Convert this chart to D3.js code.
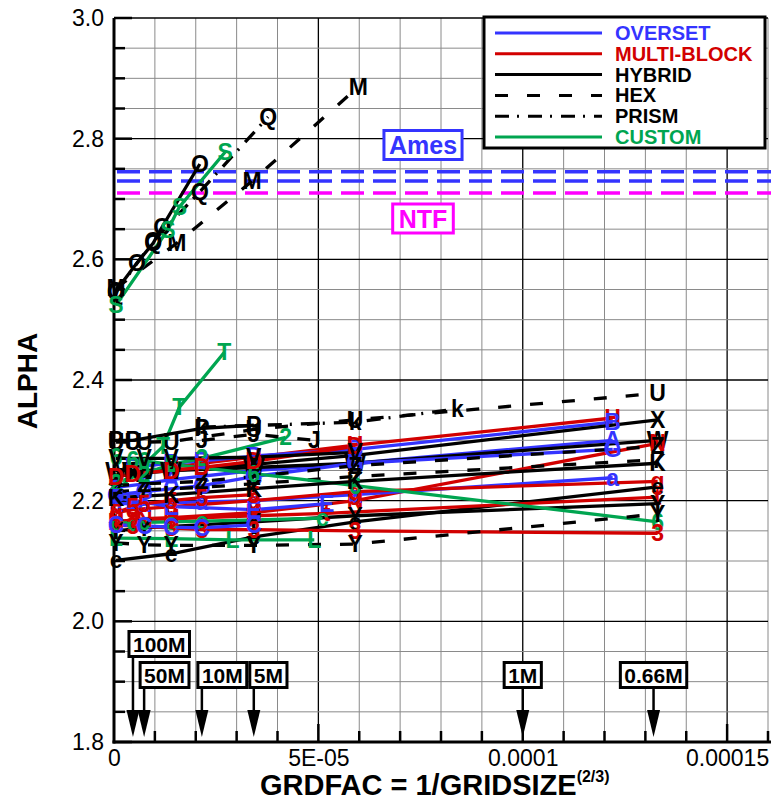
<!DOCTYPE html>
<html>
<head>
<meta charset="utf-8">
<script src="https://cdn.jsdelivr.net/npm/d3@7"></script>
<style>
body { margin: 0; background: #fff; }
text { font-family: "Liberation Sans", Arial, sans-serif; }
</style>
</head>
<body>
<div id="chart"></div>
<script>
// legend entries (grid type) and how each one is drawn
var gridTypes = ["OVERSET", "MULTI-BLOCK", "HYBRID", "HEX", "PRISM", "CUSTOM"];
var typeColors = ["#3434ff", "#d20000", "#000000", "#000000", "#000000", "#00a550"];
var typeDash = [null, null, null, "13,19", "14,8,2,9", null];

// one entry per solution: grid type, plot symbol, GRDFAC (x 1e-5) and ALPHA
var seriesType = ["HYBRID", "PRISM", "HEX", "CUSTOM", "HEX", "PRISM", "CUSTOM",
    "MULTI-BLOCK", "OVERSET", "HYBRID", "OVERSET", "HYBRID", "MULTI-BLOCK", "OVERSET",
    "HEX", "HEX", "OVERSET", "MULTI-BLOCK", "HYBRID", "MULTI-BLOCK", "HYBRID",
    "CUSTOM", "CUSTOM", "CUSTOM", "CUSTOM", "MULTI-BLOCK", "HEX", "OVERSET",
    "MULTI-BLOCK", "OVERSET", "MULTI-BLOCK", "HYBRID", "HYBRID", "HYBRID", "HEX"];
var seriesSymbol = ["O", "Q", "M", "S", "U", "k", "T", "H", "B", "X", "A", "W", "N", "G",
    "Z", "7", "a", "g", "e", "t", "Y", "6", "2", "c", "L", "3", "Y", "E", "5", "C", "D",
    "P", "K", "V", "J"];
var seriesGrdfac = [
    [0.05, 0.56, 0.96, 1.18, 2.1],
    [0.05, 0.96, 2.1, 3.77],
    [0.05, 1.54, 3.38, 5.98],
    [0.05, 1.32, 1.6, 2.72],
    [0.05, 0.46, 0.74, 1.4, 3.42, 5.9, 13.3],
    [2.15, 5.9, 8.4],
    [0.05, 1.2, 1.6, 2.7],
    [0.46, 1.4, 2.15, 3.42, 5.9, 12.2],
    [0.46, 1.4, 2.15, 3.42, 5.9, 12.2],
    [0.05, 0.46, 1.4, 3.42, 5.9, 13.3],
    [0.05, 0.74, 1.4, 3.42, 5.9, 12.2],
    [0.05, 0.46, 0.74, 1.4, 3.42, 5.9, 13.3],
    [0.05, 0.74, 1.4, 3.42, 5.9, 13.3],
    [0.05, 0.74, 2.15, 3.42, 5.9, 12.2],
    [0.05, 0.74, 2.15, 3.42, 5.9, 13.3],
    [0.05, 0.74, 2.15, 3.42, 5.9, 13.3],
    [0.05, 0.74, 2.15, 3.42, 5.9, 12.2],
    [0.05, 0.46, 1.4, 3.42, 5.9, 13.3],
    [0.05, 1.4, 3.42, 5.9, 13.3],
    [0.05, 0.46, 1.4, 3.42, 5.2, 13.3],
    [0.05, 0.74, 3.42, 5.9, 13.3],
    [0.05, 0.46, 0.74, 1.4, 3.42, 5.9, 13.3],
    [0.05, 0.74, 1.4, 2.15, 4.2],
    [0.05, 0.46, 0.74, 1.4, 2.15, 5.1],
    [0.05, 1.4, 2.9, 4.9],
    [0.05, 0.46, 1.4, 2.15, 3.42, 5.9, 13.3],
    [0.05, 0.74, 1.4, 3.42, 5.9, 13.3],
    [0.05, 0.46, 1.4, 3.42, 5.2],
    [0.05, 0.46, 0.74, 1.4, 2.15, 3.42],
    [0.05, 0.74, 1.4, 2.15, 3.42],
    [0.05, 0.46, 1.4, 2.15, 3.42, 5.9],
    [0.05, 0.46, 2.15, 3.42],
    [0.05, 1.4, 3.42, 5.9, 13.3],
    [0.05, 0.74, 1.4, 3.42, 5.9],
    [2.15, 3.42, 4.9]
];
var seriesAlpha = [
    [2.548, 2.594, 2.627, 2.654, 2.758],
    [2.546, 2.630, 2.712, 2.836],
    [2.552, 2.627, 2.730, 2.886],
    [2.524, 2.649, 2.687, 2.778],
    [2.297, 2.297, 2.297, 2.298, 2.318, 2.334, 2.378],
    [2.322, 2.330, 2.352],
    [2.215, 2.290, 2.355, 2.446],
    [2.245, 2.255, 2.262, 2.272, 2.292, 2.337],
    [2.256, 2.262, 2.266, 2.274, 2.285, 2.330],
    [2.240, 2.244, 2.250, 2.260, 2.275, 2.334],
    [2.222, 2.228, 2.235, 2.250, 2.262, 2.300],
    [2.250, 2.250, 2.250, 2.250, 2.255, 2.262, 2.300],
    [2.165, 2.170, 2.172, 2.180, 2.200, 2.295],
    [2.210, 2.215, 2.225, 2.240, 2.262, 2.285],
    [2.225, 2.228, 2.232, 2.240, 2.258, 2.290],
    [2.215, 2.218, 2.222, 2.228, 2.240, 2.268],
    [2.195, 2.195, 2.198, 2.200, 2.210, 2.238],
    [2.180, 2.185, 2.190, 2.200, 2.215, 2.232],
    [2.101, 2.112, 2.140, 2.165, 2.223],
    [2.165, 2.168, 2.170, 2.175, 2.179, 2.206],
    [2.150, 2.155, 2.165, 2.175, 2.195],
    [2.272, 2.268, 2.266, 2.260, 2.245, 2.225, 2.165],
    [2.230, 2.245, 2.260, 2.270, 2.305],
    [2.163, 2.163, 2.164, 2.165, 2.166, 2.171],
    [2.138, 2.137, 2.135, 2.135],
    [2.160, 2.158, 2.155, 2.152, 2.152, 2.150, 2.146],
    [2.130, 2.127, 2.126, 2.126, 2.128, 2.178],
    [2.205, 2.200, 2.190, 2.185, 2.195],
    [2.180, 2.190, 2.195, 2.200, 2.205, 2.210],
    [2.160, 2.158, 2.156, 2.155, 2.160],
    [2.240, 2.245, 2.250, 2.255, 2.265, 2.290],
    [2.300, 2.300, 2.320, 2.325],
    [2.205, 2.210, 2.220, 2.232, 2.262],
    [2.270, 2.270, 2.270, 2.272, 2.280],
    [2.300, 2.310, 2.300]
];

// experimental reference values
var refNames = ["Ames", "Ames", "NTF"];
var refAlpha = [2.745, 2.730, 2.710];

// grid size markers along the bottom
var gridSizeLabels = ["100M", "50M", "10M", "5M", "1M", "0.66M"];
var gridSizeGrdfac = [4.64e-6, 7.37e-6, 2.15e-5, 3.42e-5, 1.0e-4, 1.32e-4];

var yTicks = [1.8, 2.0, 2.2, 2.4, 2.6, 2.8, 3.0];
var xTicks = [0, 0.00005, 0.0001, 0.00015];
var xTickLabels = ["0", "5E-05", "0.0001", "0.00015"];

var width = 771, height = 798;
var plotL = 114, plotR = 768, plotT = 18, plotB = 742;

var svg = d3.select("#chart").append("svg")
    .attr("width", width)
    .attr("height", height);

var x = d3.scaleLinear().domain([0, 0.00016]).range([plotL, plotR]);
var y = d3.scaleLinear().domain([1.8, 3.0]).range([plotB, plotT]);

svg.append("clipPath").attr("id", "plotclip")
    .append("rect")
    .attr("x", plotL).attr("y", plotT - 2)
    .attr("width", plotR - plotL + 3).attr("height", plotB - plotT + 2);

// grid
var gx = d3.range(1, 17).map(function (i) { return i * 1e-5; });
var gy = d3.range(0, 25).map(function (i) { return 1.8 + i * 0.05; });
var grid = svg.append("g");
grid.selectAll("line.vx")
    .data(gx)
    .enter().append("line")
    .attr("x1", function (d) { return x(d); })
    .attr("x2", function (d) { return x(d); })
    .attr("y1", plotT).attr("y2", plotB)
    .attr("stroke", function (d, i) { return (i + 1) % 5 == 0 ? "#000" : "#8a8a8a"; })
    .attr("stroke-width", function (d, i) { return (i + 1) % 5 == 0 ? 1.3 : 1; });
grid.selectAll("line.hy")
    .data(gy)
    .enter().append("line")
    .attr("x1", plotL).attr("x2", plotR)
    .attr("y1", function (d) { return y(d); })
    .attr("y2", function (d) { return y(d); })
    .attr("stroke", function (d, i) { return i % 4 == 0 ? "#000" : "#8a8a8a"; })
    .attr("stroke-width", function (d, i) { return i % 4 == 0 ? 1.3 : 1; });

// axis ticks (inside)
svg.append("g").selectAll("line")
    .data(gy)
    .enter().append("line")
    .attr("x1", plotL).attr("x2", function (d, i) { return i % 4 == 0 ? plotL + 18 : plotL + 11; })
    .attr("y1", function (d) { return y(d); })
    .attr("y2", function (d) { return y(d); })
    .attr("stroke", "#000").attr("stroke-width", 2.5);
svg.append("g").selectAll("line")
    .data(gx)
    .enter().append("line")
    .attr("x1", function (d) { return x(d); })
    .attr("x2", function (d) { return x(d); })
    .attr("y1", plotB)
    .attr("y2", function (d, i) { return (i + 1) % 5 == 0 ? plotB - 18 : plotB - 11; })
    .attr("stroke", "#000").attr("stroke-width", 2.5);

// axis labels
var yAxis = svg.append("g")
    .attr("transform", "translate(" + plotL + ",0)")
    .call(d3.axisLeft(y).tickValues(yTicks).tickFormat(d3.format(".1f")).tickSize(0).tickPadding(10));
yAxis.select(".domain").remove();
yAxis.selectAll("text").attr("font-size", 23).attr("fill", "#000")
    .style("font-family", "'Liberation Sans', Arial, sans-serif");

var xAxis = svg.append("g")
    .attr("transform", "translate(0," + plotB + ")")
    .call(d3.axisBottom(x).tickValues(xTicks).tickFormat(function (d, i) { return xTickLabels[i]; }).tickSize(0).tickPadding(8));
xAxis.select(".domain").remove();
xAxis.selectAll("text").attr("font-size", 23).attr("fill", "#000")
    .style("font-family", "'Liberation Sans', Arial, sans-serif");

// axis lines
svg.append("line").attr("x1", plotL).attr("x2", plotL).attr("y1", plotT).attr("y2", plotB + 1.5)
    .attr("stroke", "#000").attr("stroke-width", 3);
svg.append("line").attr("x1", plotL - 1.5).attr("x2", plotR + 3).attr("y1", plotB).attr("y2", plotB)
    .attr("stroke", "#000").attr("stroke-width", 3);

svg.append("text")
    .attr("transform", "translate(37,381) rotate(-90)")
    .attr("text-anchor", "middle")
    .attr("font-size", 28).attr("font-weight", "bold")
    .text("ALPHA");

var xl = svg.append("text")
    .attr("x", 260).attr("y", 795)
    .attr("font-size", 29).attr("font-weight", "bold");
xl.append("tspan").text("GRDFAC = 1/GRIDSIZE");
xl.append("tspan").attr("font-size", 16).attr("dy", -13).text("(2/3)");

// reference lines
var refColor = { "Ames": "#3434ff", "NTF": "#ff00ff" };
svg.append("g").selectAll("line")
    .data(refAlpha)
    .enter().append("line")
    .attr("x1", plotL + 3).attr("x2", plotR + 3)
    .attr("y1", function (d) { return y(d); })
    .attr("y2", function (d) { return y(d); })
    .attr("stroke", function (d, i) { return refColor[refNames[i]]; })
    .attr("stroke-width", 3.5)
    .attr("stroke-dasharray", "23,9");

function boxedLabel(txt, cx, cy, color, size, pad) {
    var g = svg.append("g");
    var r = g.append("rect");
    var t = g.append("text")
        .attr("x", cx).attr("y", cy)
        .attr("text-anchor", "middle")
        .attr("dominant-baseline", "central")
        .attr("font-size", size).attr("font-weight", "bold")
        .attr("fill", color)
        .text(txt);
    var w = t.node().getComputedTextLength();
    r.attr("x", cx - w / 2 - pad).attr("y", cy - size * 0.58)
        .attr("width", w + 2 * pad).attr("height", size * 1.16)
        .attr("fill", "#fff").attr("stroke", color).attr("stroke-width", 3);
    return w;
}
boxedLabel("Ames", 423, 145, "#3434ff", 25, 5);
boxedLabel("NTF", 423, 218.5, "#ff00ff", 25, 6);

// solution curves
function typeIndex(t) { return gridTypes.indexOf(t); }
var lineGen = d3.line()
    .x(function (d) { return x(d[0] * 1e-5); })
    .y(function (d) { return y(d[1]); });

var series = seriesType.map(function (t, i) {
    return {
        type: t,
        sym: seriesSymbol[i],
        pts: seriesGrdfac[i].map(function (g, j) { return [g, seriesAlpha[i][j]]; })
    };
});

var curves = svg.append("g").attr("clip-path", "url(#plotclip)");
curves.selectAll("path")
    .data(series)
    .enter().append("path")
    .attr("d", function (d) { return lineGen(d.pts); })
    .attr("fill", "none")
    .attr("stroke", function (d) { return typeColors[typeIndex(d.type)]; })
    .attr("stroke-width", 3.3)
    .attr("stroke-dasharray", function (d) { return typeDash[typeIndex(d.type)]; });

var syms = svg.append("g");
series.forEach(function (s) {
    syms.selectAll(null)
        .data(s.pts)
        .enter().append("text")
        .attr("x", function (d) { return x(d[0] * 1e-5); })
        .attr("y", function (d) { return y(d[1]); })
        .attr("text-anchor", "middle")
        .attr("dominant-baseline", "central")
        .attr("font-size", 23).attr("font-weight", "bold")
        .attr("fill", typeColors[typeIndex(s.type)])
        .text(s.sym);
});

// grid size arrows
var gridRow = [0, 1, 1, 1, 1, 1];
var gridAlign = ["left", "left", "left", "left", "mid", "mid"];
var arrows = svg.append("g");
gridSizeLabels.forEach(function (lab, i) {
    var ax = x(gridSizeGrdfac[i]);
    var by = gridRow[i] == 0 ? 644 : 675;
    arrows.append("line")
        .attr("x1", ax).attr("x2", ax).attr("y1", by).attr("y2", 712)
        .attr("stroke", "#000").attr("stroke-width", 2.5);
    arrows.append("path")
        .attr("d", "M" + (ax - 6.5) + ",710L" + (ax + 6.5) + ",710L" + ax + ",737Z")
        .attr("fill", "#000");
    var t = arrows.append("text")
        .attr("y", by).attr("dominant-baseline", "central")
        .attr("font-size", 21).attr("font-weight", "bold")
        .text(lab);
    var w = t.node().getComputedTextLength();
    var bx = gridAlign[i] == "left" ? ax - 4 : ax - (w + 8) / 2;
    t.attr("x", bx + 4);
    arrows.insert("rect", "text:last-child")
        .attr("x", bx).attr("y", by - 12.5)
        .attr("width", w + 8).attr("height", 25)
        .attr("fill", "#fff").attr("stroke", "#000").attr("stroke-width", 3);
    t.raise();
});

// legend
var leg = svg.append("g");
leg.append("rect")
    .attr("x", 484).attr("y", 17).attr("width", 281).attr("height", 131)
    .attr("fill", "#fff").attr("stroke", "#000").attr("stroke-width", 3);
gridTypes.forEach(function (t, i) {
    var ly = 33 + i * 20.8;
    leg.append("line")
        .attr("x1", 495).attr("x2", 602).attr("y1", ly).attr("y2", ly)
        .attr("stroke", typeColors[i]).attr("stroke-width", 3)
        .attr("stroke-dasharray", typeDash[i]);
    leg.append("text")
        .attr("x", 615).attr("y", ly)
        .attr("dominant-baseline", "central")
        .attr("font-size", 20).attr("font-weight", "bold")
        .attr("fill", typeColors[i])
        .text(t);
});
</script>
</body>
</html>
